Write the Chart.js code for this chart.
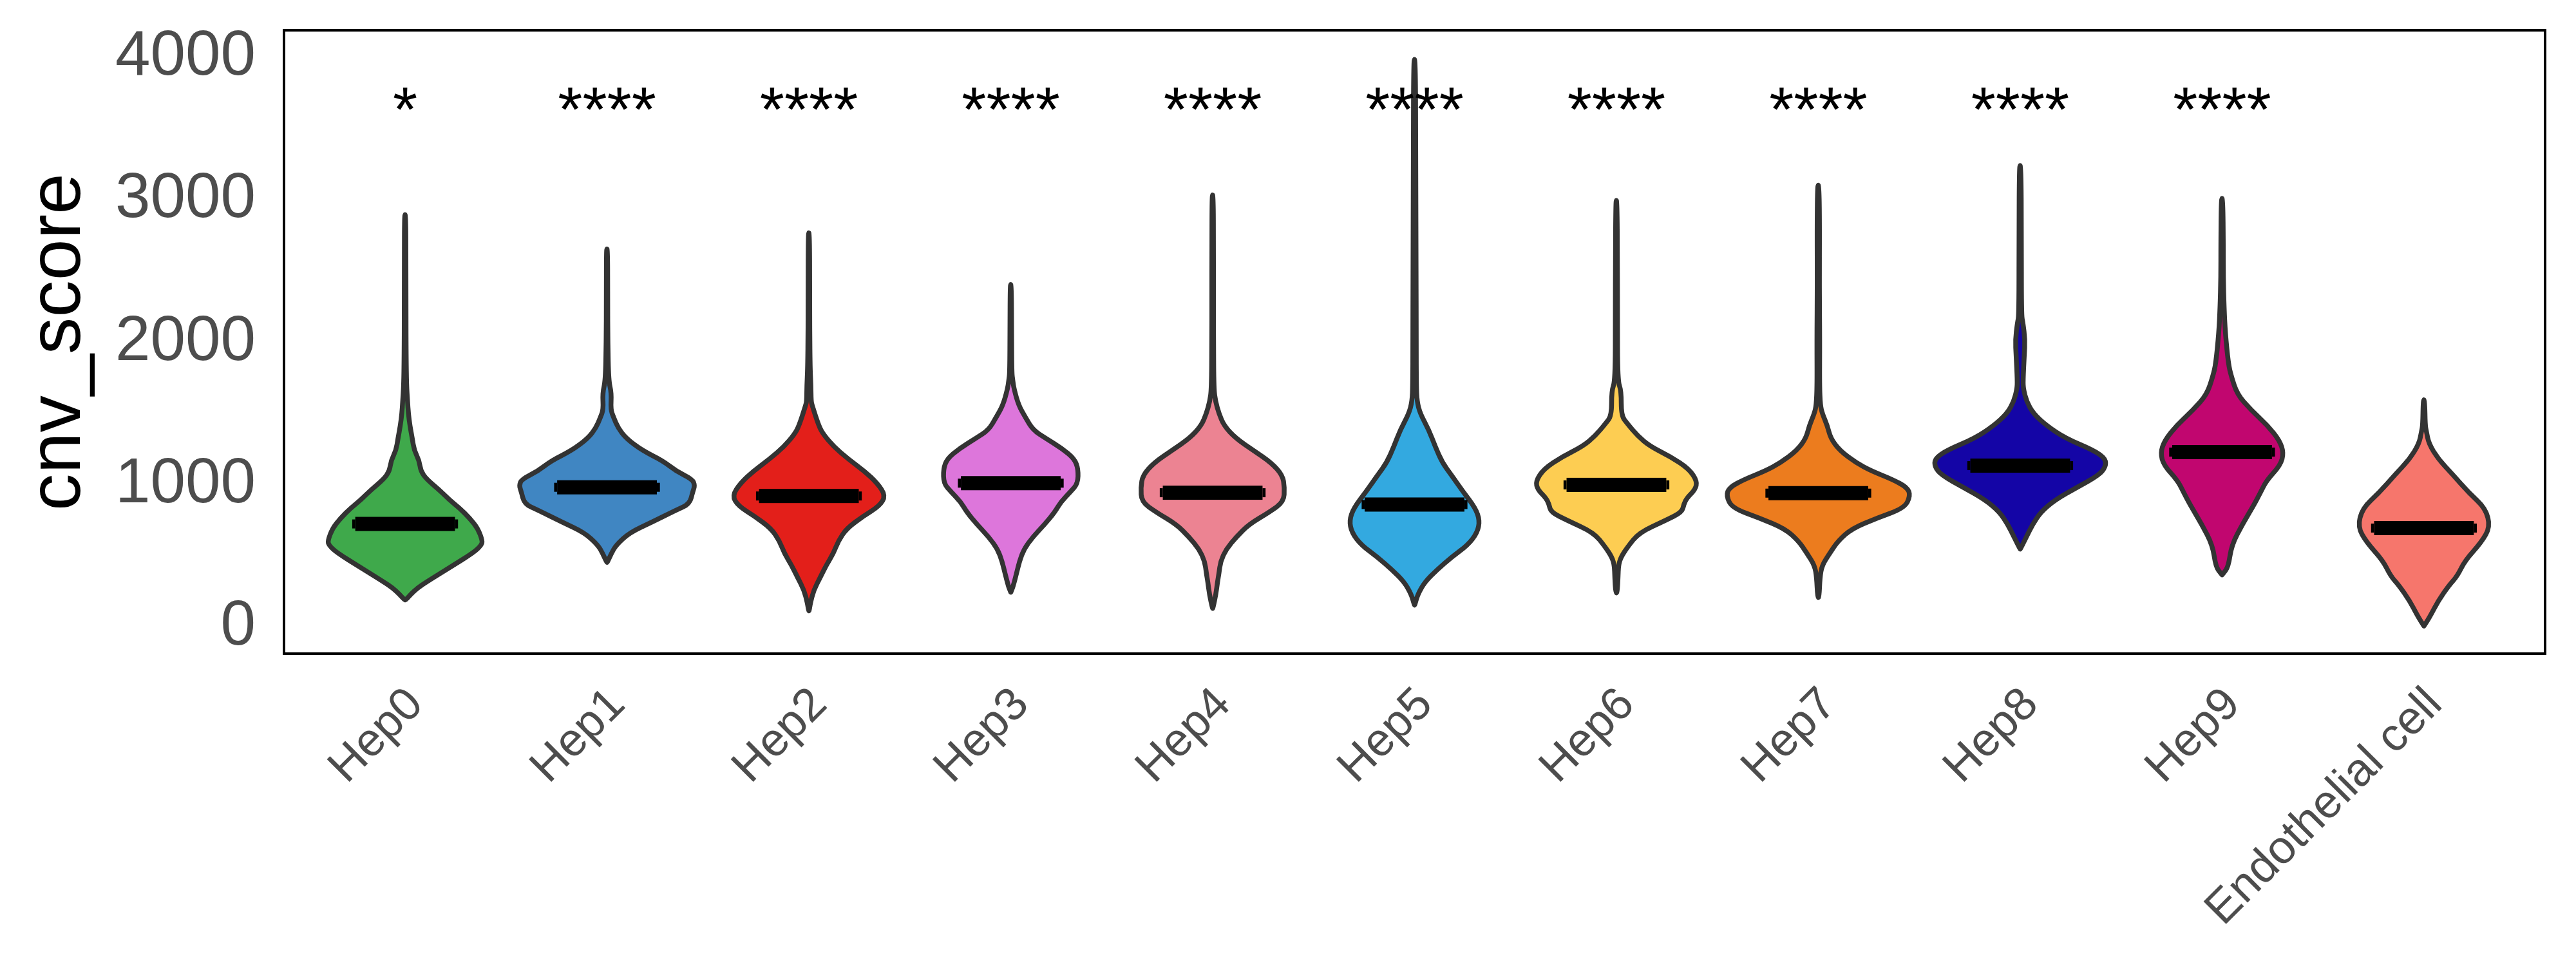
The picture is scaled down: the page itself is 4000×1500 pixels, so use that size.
<!DOCTYPE html>
<html>
<head>
<meta charset="utf-8">
<script src="https://cdn.jsdelivr.net/npm/chart.js@4.4.1/dist/chart.umd.min.js"></script>
<style>
  html, body { margin: 0; padding: 0; background: #ffffff; }
  #wrap { width: 4000px; height: 1500px; position: relative; }
</style>
</head>
<body>
<div id="wrap"><canvas id="c"></canvas></div>
<script>
// ---------------- data ----------------
const categories = ['Hep0', 'Hep1', 'Hep2', 'Hep3', 'Hep4', 'Hep5', 'Hep6', 'Hep7', 'Hep8', 'Hep9', 'Endothelial cell'];
const medianScores = [726, 983, 922, 1012, 945, 862, 1000, 942, 1135, 1230, 697];
const signifLabels = ['*', '****', '****', '****', '****', '****', '****', '****', '****', '****', ''];
const signifLabelY = 3480;
const yTicks = [0, 1000, 2000, 3000, 4000];
const yAxisTitle = 'cnv_score';

// violin outlines: [cnv_score, half width in category units], top to bottom
const violinHep0 = [[2895,0],[2880,0.003],[2600,0.004],[2200,0.004],[1900,0.005],[1700,0.007],[1587,0.012],[1501,0.016],[1414,0.024],[1328,0.035],[1242,0.045],[1170,0.07],[1098,0.077],[1040,0.106],[968,0.167],[896,0.218],[838,0.269],[766,0.32],[695,0.36],[608,0.383],[578,0.378],[526,0.34],[423,0.224],[319,0.106],[276,0.061],[232,0.028],[198,0.006],[193,0]];
const violinHep1 = [[2655,0],[2640,0.003],[2300,0.003],[2000,0.004],[1730,0.008],[1645,0.022],[1529,0.018],[1472,0.033],[1400,0.055],[1327,0.094],[1241,0.175],[1169,0.277],[1097,0.342],[1039,0.423],[996,0.435],[953,0.425],[866,0.409],[823,0.342],[737,0.22],[665,0.112],[578,0.045],[520,0.022],[462,0.003],[457,0]];
const violinHep2 = [[2768,0],[2750,0.003],[2400,0.004],[2100,0.004],[1817,0.006],[1700,0.01],[1587,0.011],[1558,0.016],[1414,0.049],[1356,0.071],[1270,0.122],[1183,0.193],[1097,0.275],[1010,0.34],[924,0.38],[852,0.35],[780,0.269],[694,0.187],[607,0.146],[521,0.122],[434,0.085],[348,0.055],[261,0.024],[175,0.008],[122,0.002],[117,0]];
const violinHep3 = [[2405,0],[2390,0.003],[2100,0.004],[1788,0.005],[1731,0.01],[1673,0.016],[1558,0.039],[1472,0.073],[1385,0.11],[1327,0.173],[1255,0.254],[1183,0.315],[1111,0.334],[1010,0.332],[953,0.297],[881,0.248],[809,0.218],[722,0.167],[636,0.11],[549,0.065],[463,0.043],[377,0.028],[290,0.012],[252,0.002],[247,0]];
const violinHep4 = [[3033,0],[3015,0.003],[2700,0.004],[2300,0.004],[2000,0.004],[1673,0.006],[1587,0.014],[1500,0.031],[1414,0.057],[1327,0.114],[1241,0.203],[1155,0.291],[1068,0.346],[982,0.356],[881,0.352],[809,0.281],[722,0.179],[636,0.118],[549,0.067],[463,0.039],[377,0.031],[319,0.024],[232,0.016],[140,0.002],[134,0]];
const violinHep5 = [[3984,0],[3965,0.004],[3500,0.006],[3000,0.006],[2500,0.008],[2000,0.008],[1700,0.009],[1587,0.012],[1500,0.028],[1385,0.071],[1270,0.102],[1155,0.138],[1068,0.183],[953,0.24],[838,0.301],[751,0.323],[665,0.311],[578,0.264],[492,0.183],[405,0.112],[319,0.051],[232,0.016],[162,0.002],[157,0]];
const violinHep6 = [[2995,0],[2980,0.003],[2600,0.005],[2200,0.005],[1731,0.006],[1659,0.024],[1486,0.024],[1428,0.055],[1342,0.106],[1270,0.167],[1198,0.268],[1111,0.36],[1025,0.4],[967,0.39],[910,0.35],[866,0.334],[809,0.325],[751,0.244],[665,0.112],[564,0.055],[492,0.022],[434,0.01],[348,0.008],[250,0.004],[243,0]];
const violinHep7 = [[3102,0],[3085,0.004],[2800,0.006],[2400,0.005],[2000,0.007],[1700,0.006],[1558,0.01],[1500,0.02],[1414,0.045],[1327,0.061],[1241,0.106],[1155,0.187],[1097,0.264],[1039,0.366],[982,0.441],[924,0.456],[838,0.427],[766,0.289],[694,0.167],[607,0.098],[521,0.057],[434,0.018],[348,0.008],[216,0.004],[210,0]];
const violinHep8 = [[3240,0],[3222,0.004],[2800,0.006],[2192,0.006],[2134,0.014],[2019,0.024],[1904,0.02],[1730,0.014],[1673,0.016],[1587,0.031],[1500,0.065],[1414,0.132],[1327,0.224],[1241,0.366],[1183,0.423],[1126,0.423],[1068,0.39],[982,0.281],[895,0.173],[809,0.102],[722,0.061],[636,0.031],[556,0.003],[550,0]];
const violinHep9 = [[3009,0],[2990,0.004],[2700,0.006],[2456,0.006],[2240,0.01],[2067,0.016],[1851,0.031],[1765,0.045],[1635,0.075],[1527,0.142],[1419,0.224],[1311,0.285],[1224,0.305],[1138,0.289],[1030,0.22],[943,0.189],[857,0.157],[727,0.102],[576,0.047],[425,0.031],[375,0.004],[369,0]];
const violinEndo = [[1596,0],[1580,0.004],[1419,0.006],[1376,0.012],[1289,0.024],[1181,0.071],[1073,0.142],[943,0.224],[835,0.305],[706,0.328],[598,0.285],[468,0.203],[360,0.165],[295,0.124],[187,0.071],[79,0.031],[16,0.003],[10,0]];

const violinProfiles = [violinHep0, violinHep1, violinHep2, violinHep3, violinHep4, violinHep5, violinHep6, violinHep7, violinHep8, violinHep9, violinEndo];

// ---------------- style ----------------
const fillColors = ['#3FA94B', '#4086C2', '#E31F1A', '#DD76DB', '#EC8392', '#33A9E0', '#FDCD52', '#EC7C1E', '#1405A6', '#C1066F', '#F6766C'];
const FONT = '"Liberation Sans", Arial, Helvetica, sans-serif';

function smoothSide(ctx, pts, move) {
  if (move) ctx.moveTo(pts[0][0], pts[0][1]); else ctx.lineTo(pts[0][0], pts[0][1]);
  for (let i = 1; i < pts.length - 1; i++) {
    const mx = (pts[i][0] + pts[i + 1][0]) / 2;
    const my = (pts[i][1] + pts[i + 1][1]) / 2;
    ctx.quadraticCurveTo(pts[i][0], pts[i][1], mx, my);
  }
  const last = pts[pts.length - 1];
  ctx.lineTo(last[0], last[1]);
}

const violinPlugin = {
  id: 'violins',
  beforeDatasetsDraw(chart) {
    const { ctx, chartArea, scales: { x, y } } = chart;
    ctx.save();
    ctx.beginPath();
    ctx.rect(chartArea.left, chartArea.top, chartArea.right - chartArea.left, chartArea.bottom - chartArea.top);
    ctx.clip();
    violinProfiles.forEach((prof, i) => {
      const right = prof.map(([v, hw]) => [x.getPixelForValue(i + hw), y.getPixelForValue(v)]);
      const left = prof.map(([v, hw]) => [x.getPixelForValue(i - hw), y.getPixelForValue(v)]).reverse();
      ctx.beginPath();
      smoothSide(ctx, right, true);
      smoothSide(ctx, left, false);
      ctx.closePath();
      ctx.fillStyle = fillColors[i];
      ctx.fill();
      ctx.lineWidth = 7.5;
      ctx.lineJoin = 'round';
      ctx.lineCap = 'round';
      ctx.strokeStyle = '#333333';
      ctx.stroke();
    });
    // median crossbars
    ctx.fillStyle = '#000000';
    medianScores.forEach((m, i) => {
      const py = y.getPixelForValue(m);
      const x0 = x.getPixelForValue(i - 0.247), x1 = x.getPixelForValue(i + 0.247);
      ctx.fillRect(x0, py - 11, x1 - x0, 22);
      const e0 = x.getPixelForValue(i - 0.262), e1 = x.getPixelForValue(i + 0.262);
      ctx.fillRect(e0, py - 7, x0 - e0, 14);
      ctx.fillRect(x1, py - 7, e1 - x1, 14);
    });
    ctx.restore();
  },
  afterDatasetsDraw(chart) {
    const { ctx, scales: { x, y } } = chart;
    ctx.save();
    ctx.font = '98px ' + FONT;
    ctx.fillStyle = '#000000';
    ctx.textAlign = 'center';
    ctx.textBaseline = 'alphabetic';
    signifLabels.forEach((s, i) => {
      if (!s) return;
      ctx.fillText(s, x.getPixelForValue(i), y.getPixelForValue(signifLabelY));
    });
    ctx.restore();
  },
  afterDraw(chart) {
    const { ctx, chartArea } = chart;
    ctx.save();
    ctx.lineWidth = 4;
    ctx.strokeStyle = '#000000';
    ctx.strokeRect(chartArea.left, chartArea.top, chartArea.right - chartArea.left, chartArea.bottom - chartArea.top);
    ctx.restore();
  }
};

new Chart(document.getElementById('c'), {
  type: 'scatter',
  data: {
    datasets: [{
      data: medianScores.map((m, i) => ({ x: i, y: m })),
      pointRadius: 0,
      showLine: false
    }]
  },
  options: {
    responsive: true,
    maintainAspectRatio: false,
    devicePixelRatio: 1,
    animation: false,
    layout: { padding: { top: 47, right: 48, left: 0, bottom: 0 } },
    plugins: { legend: { display: false }, tooltip: { enabled: false } },
    scales: {
      x: {
        type: 'linear',
        min: -0.6,
        max: 10.6,
        grid: { display: false, drawTicks: false },
        border: { display: false },
        afterBuildTicks: (s) => { s.ticks = categories.map((c, i) => ({ value: i })); },
        afterFit: (s) => { s.height = 485; s.paddingLeft = 0; s.paddingRight = 0; s.paddingTop = 0; s.paddingBottom = 0; },
        ticks: {
          autoSkip: false,
          minRotation: 45,
          maxRotation: 45,
          padding: 37,
          labelOffset: 17,
          color: '#4D4D4D',
          font: { family: FONT, size: 72 },
          callback: (v) => categories[v]
        }
      },
      y: {
        type: 'linear',
        min: -184,
        max: 4189,
        grid: { display: false, drawTicks: false },
        border: { display: false },
        afterBuildTicks: (s) => { s.ticks = yTicks.map(v => ({ value: v })); },
        afterFit: (s) => { s.width = 441; s.paddingTop = 0; s.paddingBottom = 0; s.paddingLeft = 0; s.paddingRight = 0; },
        ticks: {
          padding: 44,
          color: '#4D4D4D',
          font: { family: FONT, size: 98 },
          callback: (v) => String(v)
        },
        title: {
          display: true,
          text: yAxisTitle,
          color: '#000000',
          font: { family: FONT, size: 115 },
          padding: { top: 23, bottom: 0 }
        }
      }
    }
  },
  plugins: [violinPlugin]
});
</script>
</body>
</html>
